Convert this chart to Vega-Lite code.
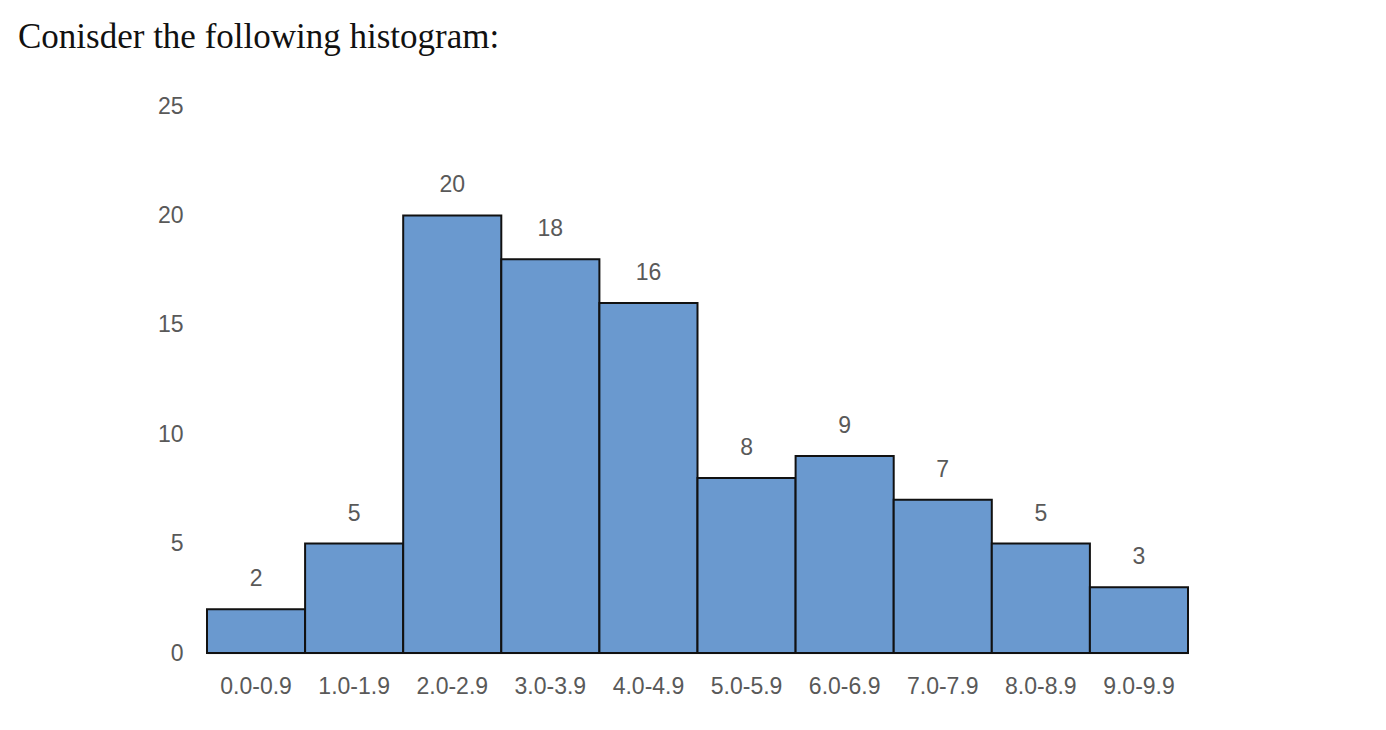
{
  "$schema": "https://vega.github.io/schema/vega-lite/v6.json",
  "width": 981,
  "height": 547,
  "autosize": "none",
  "padding": {"left": 207, "top": 106, "right": 198, "bottom": 77},
  "background": "white",
  "config": {"view": {"stroke": null}},
  "title": {
    "text": "Conisder the following histogram:",
    "anchor": "start",
    "frame": "group",
    "font": "Liberation Serif",
    "fontSize": 35,
    "fontWeight": "normal",
    "color": "#111111",
    "dx": -189,
    "offset": 40
  },
  "data": {
    "values": [
      {"bin": "0.0-0.9", "count": 2},
      {"bin": "1.0-1.9", "count": 5},
      {"bin": "2.0-2.9", "count": 20},
      {"bin": "3.0-3.9", "count": 18},
      {"bin": "4.0-4.9", "count": 16},
      {"bin": "5.0-5.9", "count": 8},
      {"bin": "6.0-6.9", "count": 9},
      {"bin": "7.0-7.9", "count": 7},
      {"bin": "8.0-8.9", "count": 5},
      {"bin": "9.0-9.9", "count": 3}
    ]
  },
  "encoding": {
    "x": {
      "field": "bin",
      "type": "ordinal",
      "sort": null,
      "scale": {"paddingInner": 0, "paddingOuter": 0},
      "axis": {
        "title": null,
        "labelAngle": 0,
        "labelFont": "Liberation Sans",
        "labelFontSize": 23,
        "labelColor": "#595959",
        "labelPadding": 22,
        "ticks": false,
        "domainColor": "#d9d9d9",
        "domainWidth": 1.5
      }
    },
    "y": {
      "field": "count",
      "type": "quantitative",
      "scale": {"domain": [0, 25]},
      "axis": {
        "title": null,
        "values": [0, 5, 10, 15, 20, 25],
        "grid": false,
        "domain": false,
        "ticks": false,
        "labelFont": "Liberation Sans",
        "labelFontSize": 23,
        "labelColor": "#595959",
        "labelPadding": 24
      }
    }
  },
  "layer": [
    {
      "mark": {"type": "bar", "color": "#6a99cf", "stroke": "#111111", "strokeWidth": 2}
    },
    {
      "mark": {"type": "text", "dy": -30, "font": "Liberation Sans", "fontSize": 23, "color": "#595959"},
      "encoding": {"text": {"field": "count", "type": "quantitative"}}
    }
  ]
}
